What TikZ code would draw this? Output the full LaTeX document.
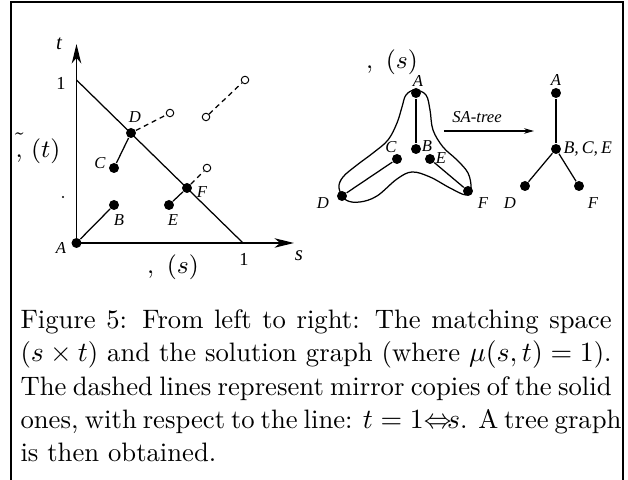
\documentclass[tikz,border=0pt]{standalone}
\usepackage{fontspec}
\newfontfamily\tms{Liberation Serif}
\usetikzlibrary{arrows.meta}
\newcommand{\capline}[1]{\makebox[212.8pt][s]{#1}\par}
\begin{document}
\begin{tikzpicture}[x=0.36pt,y=-0.36pt,
  dot/.style={circle,fill=black,inner sep=0pt,minimum size=3.6pt},
  odot/.style={circle,draw=black,line width=0.35pt,inner sep=0pt,minimum size=2.7pt},
  lbl/.style={font=\tms\itshape\fontsize{6}{6.5}\selectfont,inner sep=0pt},
  num/.style={font=\tms\fontsize{6.6}{7}\selectfont,inner sep=0pt},
  axlbl/.style={font=\tms\itshape\fontsize{7.5}{9}\selectfont,inner sep=0pt},
  cmlbl/.style={font=\fontsize{8.6}{10}\selectfont,inner sep=0pt},
  edge/.style={line width=0.45pt},
  mirror/.style={line width=0.45pt,dash pattern=on 1.8pt off 1.4pt},
  axis/.style={line width=0.5pt,-{Stealth[length=7pt,width=3.4pt,inset=2pt]}},
  frameline/.style={line width=0.8pt}]
\useasboundingbox (0,0) rectangle (628,480);
% frame
\draw[frameline] (11,482) -- (11,2) -- (623,2) -- (623,482);

% ---------- left: matching space ----------
\coordinate (O) at (76.5,243);
\coordinate (ttip) at (76.5,44);
\coordinate (stip) at (294,243);
\coordinate (t1) at (76.5,80);
\coordinate (s1) at (243,243);
\draw[axis] (O) -- (ttip);
\draw[axis] (O) -- (stip);
\draw[edge] (t1) -- (s1);
\node[axlbl] at (59,44) {t};
\node[axlbl] at (299,256) {s};
\node[num] at (61,83) {1};
\node[num] at (244,259) {1};
\node[cmlbl] at (38,148) {$\tilde{\vphantom{(},}\ (t)$};
\node[cmlbl] at (173,267) {$,\ (s)$};
\fill (63,197) circle (0.4pt);

\node[dot] (A) at (76.5,243) {};
\node[dot] (B) at (114,205) {};
\node[dot] (C) at (114,168) {};
\node[dot] (D) at (131,133) {};
\node[dot] (E) at (169,205) {};
\node[dot] (F) at (187,188) {};
\node[lbl] at (61,248) {A};
\node[lbl] at (119,220) {B};
\node[lbl] at (100,163) {C};
\node[lbl] at (135,117) {D};
\node[lbl] at (173,220) {E};
\node[lbl] at (202,192) {F};
\draw[edge] (A) -- (B);
\draw[edge] (D) -- (C);
\draw[edge] (F) -- (E);

\node[odot] (o1) at (170,113) {};
\node[odot] (o2) at (206,117) {};
\node[odot] (o3) at (245,80) {};
\node[odot] (o4) at (207,168) {};
\draw[mirror] (D) -- (o1);
\draw[mirror] (o2) -- (o3);
\draw[mirror] (F) -- (o4);

% ---------- middle: solution graph ----------
\node[cmlbl] at (392,62) {$,\ (s)$};
\draw[edge] plot[smooth cycle,tension=0.6] coordinates {
 (415,90) (426,95) (430,110) (433,130) (443,147) (457,160) (468,173)
 (471,188) (466,195) (450,188) (430,177) (412,172) (397,179)
 (377,196) (360,202) (346,200) (339,188) (343,177) (357,165)
 (373,153) (388,140) (397,123) (402,107) (406,95)};
\node[dot] (A2) at (416,93) {};
\node[dot] (B2) at (416,149) {};
\node[dot] (C2) at (397,159) {};
\node[dot] (E2) at (430,159) {};
\node[dot] (D2) at (342,196) {};
\node[dot] (F2) at (468,191) {};
\node[lbl] at (418,81) {A};
\node[lbl] at (427,146) {B};
\node[lbl] at (391,147) {C};
\node[lbl] at (441,158) {E};
\node[lbl] at (323,203) {D};
\node[lbl] at (483,203) {F};
\draw[edge] (A2) -- (B2);
\draw[edge] (C2) -- (D2);
\draw[edge] (E2) -- (F2);

% arrow
\coordinate (ar1) at (444,131);
\coordinate (ar2) at (534,131);
\draw[line width=0.4pt,-{Stealth[length=3.6pt,width=2pt]}] (ar1) -- (ar2);
\node[lbl] at (477,117) {SA-tree};

% ---------- right: tree ----------
\node[dot] (TA) at (556,93) {};
\node[dot] (TB) at (556,149) {};
\node[dot] (TD) at (525,186) {};
\node[dot] (TF) at (579,186) {};
\node[lbl] at (556,80) {A};
\node[lbl,anchor=west,font=\tms\itshape\fontsize{6.4}{7}\selectfont] at (563,149) {B,\,C,\,E};
\node[lbl] at (510,203) {D};
\node[lbl] at (593,203) {F};
\draw[edge] (TA) -- (TB);
\draw[edge] (TB) -- (TD);
\draw[edge] (TB) -- (TF);

% ---------- caption ----------
\node[anchor=north west,inner sep=0pt,font=\fontsize{9.6}{12}\selectfont] (cap) at (20,309)
{\parbox{212.8pt}{\parindent=0pt
\capline{Figure 5: From left to right: The matching space}
\capline{($s\times t$) and the solution graph (where $\mu(s,t) = 1$).}
\capline{The dashed lines represent mirror copies of the solid}
\capline{ones, with respect to the line: $t = 1{\Leftrightarrow}\!s$. A tree graph}
is then obtained.}};
\end{tikzpicture}
\end{document}
